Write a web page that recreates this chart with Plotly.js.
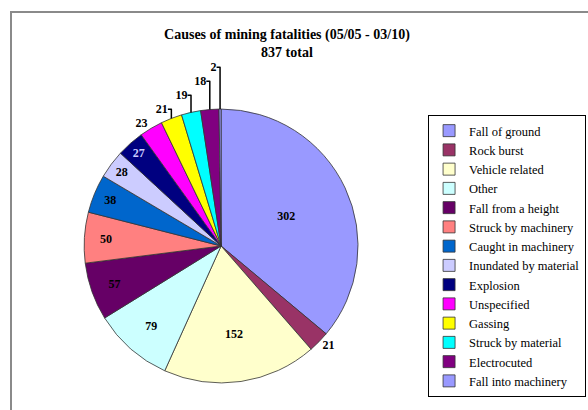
<!DOCTYPE html>
<html><head><meta charset="utf-8">
<script src="https://cdn.plot.ly/plotly-3.0.1.min.js"></script>
<style>html,body{margin:0;padding:0;background:#fff}#chart{width:588px;height:410px}</style>
</head><body><div id="chart"></div>
<script>
const causes = ['Fall of ground','Rock burst','Vehicle related','Other','Fall from a height',
  'Struck by machinery','Caught in machinery','Inundated by material','Explosion',
  'Unspecified','Gassing','Struck by material','Electrocuted','Fall into machinery'];
const fatalities = [302, 21, 152, 79, 57, 50, 38, 28, 27, 23, 21, 19, 18, 2];
const totalFatalities = 837;

const sliceColors = ['#9999FF','#993366','#FFFFCC','#CCFFFF','#660066','#FF8080','#0066CC',
  '#CCCCFF','#000080','#FF00FF','#FFFF00','#00FFFF','#800080','#9999FF'];
const labelColors = ['#000','#000','#000','#000','#000','#000','#000',
  '#000','#CCCCFF','#000','#000','#000','#000','#000'];
const labelPlacement = ['inside','outside','inside','inside','inside','inside','inside',
  'inside','inside','outside','outside','outside','outside','outside'];

const serif = '"Liberation Serif"';

const trace = {
  type: 'pie',
  labels: causes,
  values: fatalities,
  sort: false,
  direction: 'clockwise',
  rotation: 0,
  domain: {x: [0.143, 0.609], y: [0.066, 0.734]},
  marker: {colors: sliceColors, line: {color: '#333333', width: 0.8}},
  textinfo: 'value',
  textposition: labelPlacement,
  insidetextorientation: 'horizontal',
  textfont: {family: serif, size: 12, weight: 'bold', color: labelColors},
  outsidetextfont: {family: serif, size: 12, weight: 'bold', color: '#000'},
  hoverinfo: 'label+value',
  showlegend: true
};

const layout = {
  width: 588, height: 410, autosize: false,
  margin: {l: 0, r: 0, t: 0, b: 0, autoexpand: false},
  paper_bgcolor: '#fff', plot_bgcolor: '#fff',
  title: {
    text: '<b>Causes of mining fatalities (05/05 - 03/10)</b><br><b>' + totalFatalities + ' total</b>',
    font: {family: serif, size: 14, color: '#000'},
    x: 0.488, xanchor: 'center', y: 0.905, yanchor: 'middle'
  },
  legend: {
    x: 0.728, xanchor: 'left', y: 0.7195, yanchor: 'top',
    bordercolor: '#000', borderwidth: 1, bgcolor: '#fff',
    font: {family: serif, size: 12.5, color: '#000'},
    traceorder: 'normal'
  },
  shapes: [{
    type: 'rect', xref: 'paper', yref: 'paper',
    x0: 11/588, x1: 1.05, y0: -0.05, y1: 1 - 12/410,
    line: {color: '#8a8a8a', width: 2}, fillcolor: 'rgba(0,0,0,0)'
  }]
};

Plotly.newPlot('chart', [trace], layout, {displayModeBar: false, staticPlot: true});
</script></body></html>
